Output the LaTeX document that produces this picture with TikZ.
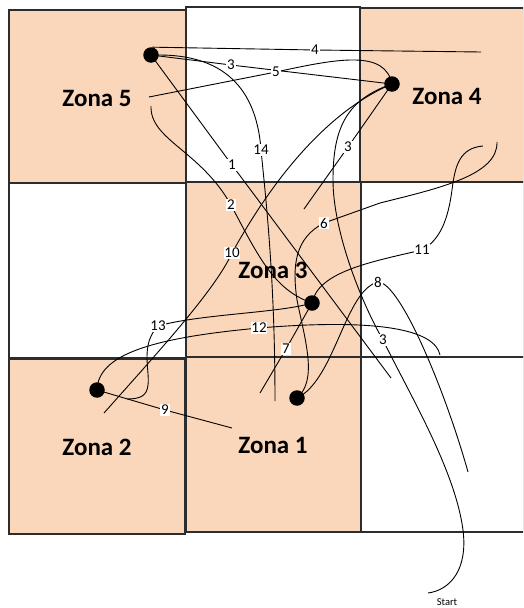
\documentclass[tikz,border=0pt]{standalone}
\usepackage{fontspec}
\setmainfont{Carlito}
\definecolor{peachfill}{RGB}{250,215,187}
\definecolor{zoneline}{RGB}{45,45,45}
\pgfdeclarelayer{zonelayer}
\pgfdeclarelayer{wirelayer}
\pgfsetlayers{zonelayer,wirelayer,main}
\begin{document}
\begin{tikzpicture}[x=1pt,y=-1pt,
  zone/.style={draw=zoneline, line width=1.2pt},
  peach/.style={zone, fill=peachfill},
  plain/.style={zone, fill=white},
  wire/.style={draw=black, line width=0.9pt},
  dot/.style={circle, fill=black, minimum size=15.5pt, inner sep=0pt},
  lbl/.style={fill=white, inner sep=0.8pt, font=\fontsize{15}{15}\selectfont},
  zlabel/.style={font=\fontsize{25}{25}\selectfont\bfseries},
  startlbl/.style={font=\fontsize{10.5}{10.5}\selectfont}]
\useasboundingbox (0,0) rectangle (523,608);
\begin{pgfonlayer}{zonelayer}
  \clip (0,0) rectangle (523,608);
  \fill[white] (0,0) rectangle (523,608);
  \draw[plain] (186,7) rectangle (360,183);
  \draw[peach] (9,10) rectangle (186,183);
  \draw[peach] (360,8) rectangle (524,182);
  \draw[plain] (9,183) rectangle (186,358);
  \draw[plain] (361,182) rectangle (524,357);
  \draw[peach] (186,182) rectangle (361,357);
  \draw[peach] (9,359) rectangle (185,534);
  \draw[plain] (361,357) rectangle (524,532);
  \draw[peach] (186,357) rectangle (361,532);
\end{pgfonlayer}

% zone names
\node[zlabel] (z5) at (97,98) {Zona 5};
\node[zlabel] (z4) at (447,96) {Zona 4};
\node[zlabel] (z3) at (273,270) {Zona 3};
\node[zlabel] (z2) at (97,447) {Zona 2};
\node[zlabel] (z1) at (273,445) {Zona 1};

% points
\node[dot] (A) at (151,55) {};
\node[dot] (B) at (392,84) {};
\node[dot] (C) at (312,303) {};
\node[dot] (D) at (97,390) {};
\node[dot] (E) at (297,398) {};

% labels
\node[lbl] (l4) at (315,50) {4};
\node[lbl] (l3a) at (231,65) {3};
\node[lbl] (l5) at (276,72) {5};
\node[lbl] (l1) at (232,165) {1};
\node[lbl] (l14) at (261,150) {14};
\node[lbl] (l2) at (231,205) {2};
\node[lbl] (l3b) at (348,147) {3};
\node[lbl] (l10) at (232,253) {10};
\node[lbl] (l6) at (324,223) {6};
\node[lbl] (l11) at (422,250) {11};
\node[lbl] (l8) at (378,282) {8};
\node[lbl] (l3c) at (383,340) {3};
\node[lbl] (l13) at (158,326) {13};
\node[lbl] (l12) at (259,328) {12};
\node[lbl] (l7) at (286,349) {7};
\node[lbl] (l9) at (165,410) {9};
\node[startlbl] (st) at (447,602) {Start};

% free ends
\coordinate (e4) at (481,52);
\coordinate (e5) at (149,97);
\coordinate (e1) at (391,378);
\coordinate (e14) at (275,401);
\coordinate (e2) at (151,106);
\coordinate (e3b) at (304,209);
\coordinate (e10) at (104,413);
\coordinate (e6) at (497,142);
\coordinate (e11) at (483,146);
\coordinate (e8) at (468,472);
\coordinate (eS) at (428,593);
\coordinate (e13) at (127,399);
\coordinate (e12) at (440,355);
\coordinate (e7) at (260,393);
\coordinate (e9) at (232,428);

\begin{pgfonlayer}{wirelayer}
  \draw[wire] (A.80) -- (l4.center) -- (e4);
  \draw[wire] (A.center) -- (l3a.center) -- (B.center);
  \draw[wire] (e5) -- (l5.center) .. controls (340,58) and (385,50) .. (B.center);
  \draw[wire] (A.center) -- (l1.center) -- (e1);
  \draw[wire] (A.east) .. controls (215,55) and (256,80) .. (l14.center)
              .. controls (266,200) and (275,280) .. (e14);
  \draw[wire] (e2) .. controls (150,140) and (200,150) .. (l2.center)
              .. controls (260,260) and (275,290) .. (C.center);
  \draw[wire] (B.center) -- (l3b.center) -- (e3b);
  \draw[wire] (B.center) .. controls (330,110) and (275,175) .. (l10.center)
              .. controls (215,290) and (160,350) .. (e10);
  \draw[wire] (B.center) .. controls (345,100) and (333,130) .. (333,180)
              .. controls (333,230) and (360,300) .. (l3c.center)
              .. controls (410,395) and (455,470) .. (463,530)
              .. controls (468,570) and (450,590) .. (eS);
  \draw[wire] (e6) .. controls (498,175) and (440,188) .. (380,203)
              -- (l6.center)
              .. controls (295,238) and (292,265) .. (297,300)
              .. controls (305,340) and (318,380) .. (E.center);
  \draw[wire] (e11) .. controls (460,148) and (455,165) .. (452,190)
              .. controls (448,220) and (440,240) .. (l11.center)
              .. controls (370,262) and (318,272) .. (C.center);
  \draw[wire] (E.center) .. controls (335,380) and (345,290) .. (l8.center)
              .. controls (400,282) and (445,390) .. (e8);
  \draw[wire] (C.center) .. controls (280,313) and (200,314) .. (l13.center)
              .. controls (140,345) and (150,370) .. (148,385)
              .. controls (147,396) and (140,399) .. (e13);
  \draw[wire] (D.center) .. controls (98,355) and (150,338) .. (l12.center)
              .. controls (380,318) and (435,330) .. (e12);
  \draw[wire] (C.center) -- (l7.center) -- (e7);
  \draw[wire] (D.center) -- (l9.center) -- (e9);
\end{pgfonlayer}
\end{tikzpicture}
\end{document}
